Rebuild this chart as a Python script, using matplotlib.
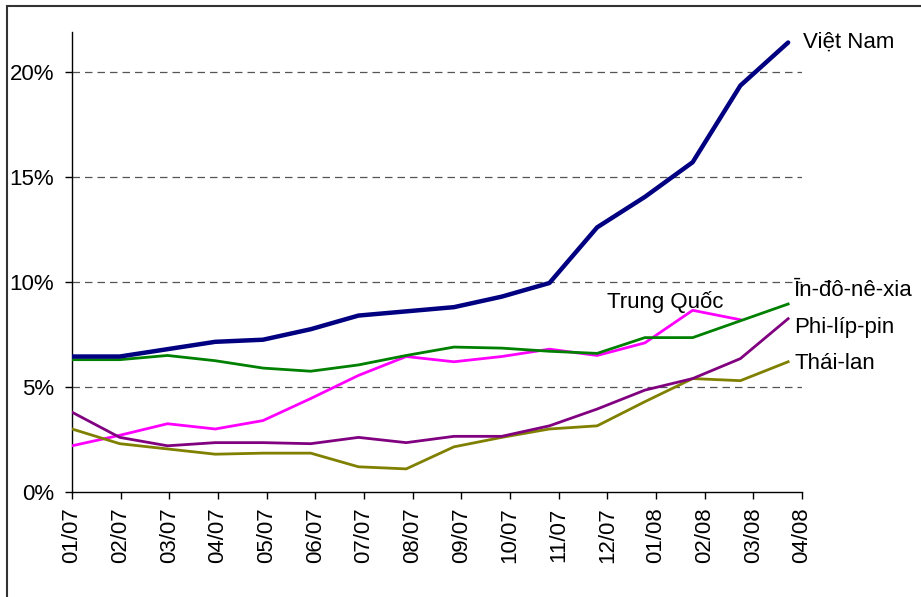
import numpy as np
import matplotlib
matplotlib.use("Agg")
import matplotlib.pyplot as plt
from matplotlib.patches import Rectangle

plt.rcParams['font.family'] = ['Liberation Sans', 'DejaVu Sans']

# thang 01/07 -> 04/08
months = ['01/07', '02/07', '03/07', '04/07', '05/07', '06/07', '07/07', '08/07',
          '09/07', '10/07', '11/07', '12/07', '01/08', '02/08', '03/08', '04/08']

# lam phat (%), doc tu hinh
viet_nam = [6.45, 6.45, 6.8, 7.15, 7.25, 7.75, 8.4, 8.6, 8.8, 9.3, 9.95, 12.6, 14.05, 15.7, 19.35, 21.4]
indonesia = [6.3, 6.3, 6.5, 6.25, 5.9, 5.75, 6.05, 6.5, 6.9, 6.85, 6.7, 6.6, 7.35, 7.35, 8.15, 8.95]
trung_quoc = [2.2, 2.7, 3.25, 3.0, 3.4, 4.45, 5.55, 6.45, 6.2, 6.45, 6.8, 6.5, 7.1, 8.65, 8.2]
philippines = [3.8, 2.6, 2.2, 2.35, 2.35, 2.3, 2.6, 2.35, 2.65, 2.65, 3.15, 3.95, 4.85, 5.4, 6.35, 8.25]
thai_lan = [3.0, 2.3, 2.05, 1.8, 1.85, 1.85, 1.2, 1.1, 2.15, 2.6, 3.0, 3.15, 4.3, 5.4, 5.3, 6.2]

fig = plt.figure(figsize=(9.21, 5.97), dpi=100)
ax = fig.add_axes([72/921, 1-492/597, (802-72)/921, (492-32)/597])

# diem du lieu hoi lech trai so voi vach chia (truc ngay cua Excel)
step = 0.981
x = np.arange(len(months)) * step

for v in [5, 10, 15, 20]:
    ax.axhline(v, color='#555555', lw=0.9, linestyle=(0, (6, 4)), zorder=1)

ax.plot(x[:len(trung_quoc)], trung_quoc, color='#FF00FF', lw=2.0, zorder=3)
ax.plot(x, thai_lan, color='#808000', lw=2.0, zorder=3)
ax.plot(x, philippines, color='#800080', lw=2.0, zorder=4)
ax.plot(x, indonesia, color='#008000', lw=2.0, zorder=5)
ax.plot(x, viet_nam, color='#000080', lw=3.2, zorder=6, solid_capstyle='round')

fs = 16
ax.set_xlim(0, 15)
ax.set_ylim(0, 21.9)
ax.set_xticks(np.arange(len(months)))
ax.set_xticklabels(months, rotation=90, fontsize=fs)
ax.set_yticks([0, 5, 10, 15, 20])
ax.set_yticklabels(['0%', '5%', '10%', '15%', '20%'], fontsize=fs)
ax.tick_params(direction='out', length=5, width=1, color='black')
ax.tick_params(axis='y', pad=8)
ax.tick_params(axis='x', pad=6)

for s in ['top', 'right']:
    ax.spines[s].set_visible(False)
for s in ['left', 'bottom']:
    ax.spines[s].set_linewidth(1)
    ax.spines[s].set_color('black')

kw = dict(textcoords='offset pixels', fontsize=fs, va='center', ha='left')
ax.annotate('Việt Nam', xy=(x[-1], viet_nam[-1]), xytext=(15, 0), **kw)
ax.annotate('Īn-đô-nê-xia', xy=(x[-1], indonesia[-1]), xytext=(6, 14), **kw)
ax.annotate('Phi-líp-pin', xy=(x[-1], philippines[-1]), xytext=(6, -9), **kw)
ax.annotate('Thái-lan', xy=(x[-1], thai_lan[-1]), xytext=(6, -2), **kw)
ax.text(12.2, 9.05, 'Trung Quốc', fontsize=fs, ha='center', va='center')

# khung vien
fig.patches.append(Rectangle((7/921, -0.05), 1.0, 1 - 6/597 + 0.05,
                             transform=fig.transFigure, fill=False,
                             edgecolor='#333333', lw=1.5, clip_on=False))

fig.savefig('out.png', dpi=100)
